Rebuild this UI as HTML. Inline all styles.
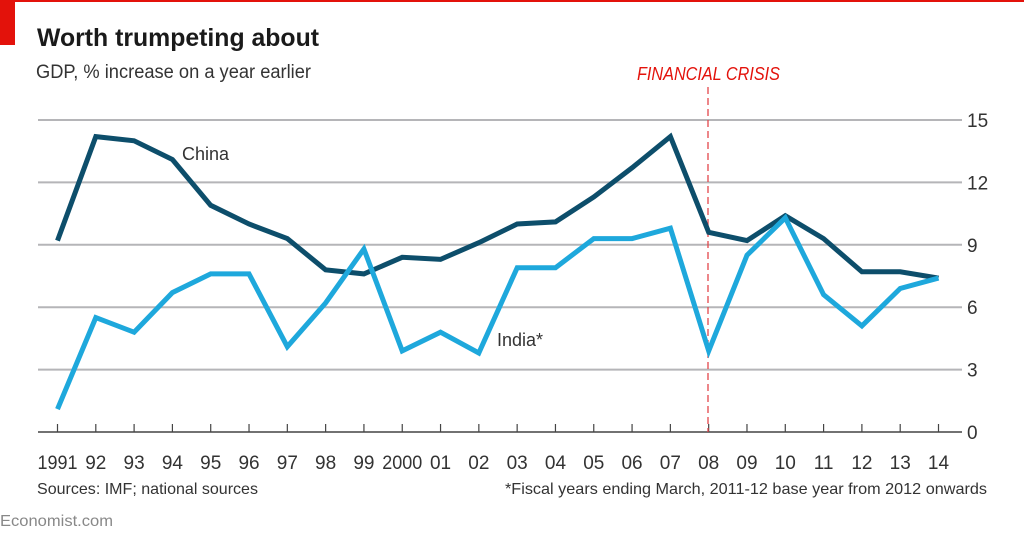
<!DOCTYPE html>
<html><head><meta charset="utf-8"><style>
html,body{margin:0;padding:0;background:#fff;}
svg{display:block;font-family:"Liberation Sans",sans-serif;}
</style></head><body>
<svg width="1024" height="537" viewBox="0 0 1024 537" id="chart">
<rect x="0" y="0" width="1024" height="2" fill="#e3120b"/>
<rect x="0" y="0" width="15" height="45" fill="#e3120b"/>
<text x="37" y="46" font-size="25" font-weight="bold" fill="#1a1a1a" textLength="282" lengthAdjust="spacingAndGlyphs">Worth trumpeting about</text>
<text x="36" y="78" font-size="19" fill="#333" textLength="275" lengthAdjust="spacingAndGlyphs">GDP, % increase on a year earlier</text>
<g id="grid"></g>
<g id="xaxis"></g>
<line x1="708" y1="87" x2="708" y2="432" stroke="#e3464a" stroke-width="1.3" stroke-dasharray="7,4"/>
<text x="637" y="80" font-size="18" font-style="italic" fill="#e3120b" textLength="143" lengthAdjust="spacingAndGlyphs">FINANCIAL CRISIS</text>
<g id="series"></g>
<text x="182" y="160" font-size="18" fill="#333">China</text>
<text x="497" y="346" font-size="18" fill="#333">India*</text>
<text x="37" y="494" font-size="16" fill="#333" textLength="221" lengthAdjust="spacingAndGlyphs">Sources: IMF; national sources</text>
<text x="987" y="494" font-size="16" fill="#333" text-anchor="end" textLength="482" lengthAdjust="spacingAndGlyphs">*Fiscal years ending March, 2011-12 base year from 2012 onwards</text>
<text x="0" y="526" font-size="16" fill="#888" textLength="113" lengthAdjust="spacingAndGlyphs">Economist.com</text>
</svg>
<script>
const years = ["1991","92","93","94","95","96","97","98","99","2000","01","02","03","04","05","06","07","08","09","10","11","12","13","14"];
const china = [9.2,14.2,14.0,13.1,10.9,10.0,9.3,7.8,7.6,8.4,8.3,9.1,10.0,10.1,11.3,12.7,14.2,9.6,9.2,10.4,9.3,7.7,7.7,7.4];
const india = [1.1,5.5,4.8,6.7,7.6,7.6,4.1,6.2,8.8,3.9,4.8,3.8,7.9,7.9,9.3,9.3,9.8,3.9,8.5,10.3,6.6,5.1,6.9,7.4];
const yTicks = [0,3,6,9,12,15];
const NS="http://www.w3.org/2000/svg";
const x0=57.5, x1=938.5, yBase=432, yTop=120, yMax=15;
function xs(i){return x0+(x1-x0)*i/(years.length-1);}
function ys(v){return yBase-(yBase-yTop)*v/yMax;}
function mk(tag,attrs,parent){const e=document.createElementNS(NS,tag);for(const k in attrs)e.setAttribute(k,attrs[k]);parent.appendChild(e);return e;}
const grid=document.getElementById('grid');
yTicks.forEach(t=>{
  const y=ys(t);
  const l=mk('line',{x1:38,x2:962,y1:y,y2:y,stroke:t===0?'#444':'#b5b5b8','stroke-width':t===0?1.5:2},grid);
  
  
  const tx=mk('text',{x:967,y:y+7,'font-size':19,fill:'#333'},grid);
  tx.textContent=t;
  
  
});
const xa=document.getElementById('xaxis');
years.forEach((yr,i)=>{
  const x=xs(i);
  const tk=mk('line',{x1:x,x2:x,y1:yBase-8,y2:yBase,stroke:'#444','stroke-width':1.2},xa);
  
  
  const tx=mk('text',{x:x,y:469,'font-size':19,fill:'#333','text-anchor':'middle'},xa);
  if(yr.length===4){tx.setAttribute('textLength',40);tx.setAttribute('lengthAdjust','spacingAndGlyphs');}
  tx.textContent=yr;
  
  
});
const sg=document.getElementById('series');
function line(data,color,name){
  const d=data.map((v,i)=>(i?'L':'M')+xs(i).toFixed(1)+','+ys(v).toFixed(1)).join(' ');
  const p=mk('path',{d:d,fill:'none',stroke:color,'stroke-width':5,'stroke-linejoin':'miter','stroke-miterlimit':3},sg);
  
  
}
line(china,'#0d4e6b','china-line');
line(india,'#1ea8dc','india-line');
</script>
</body></html>
